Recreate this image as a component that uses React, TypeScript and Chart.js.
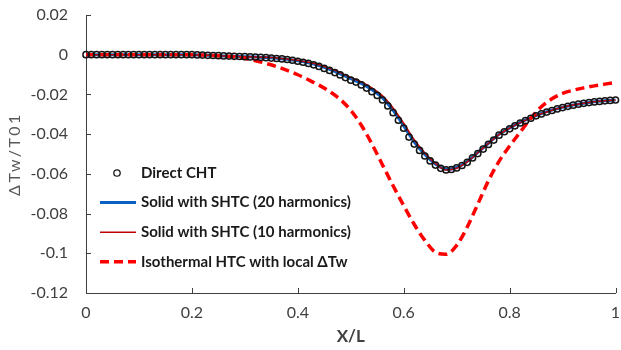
import React, { useEffect, useRef } from 'react';
import { Chart, registerables } from 'chart.js';
Chart.register(...registerables);

// ---------- DATA ----------
const seriesLabels = [
  'Direct CHT',
  'Solid with SHTC (20 harmonics)',
  'Solid with SHTC (10 harmonics)',
  'Isothermal HTC with local ΔTw',
];

// Direct CHT samples (X/L)
const xCHT = [
  0, 0.01, 0.02, 0.03, 0.04, 0.05, 0.06, 0.07, 0.08, 0.09,
  0.1, 0.11, 0.12, 0.13, 0.14, 0.15, 0.16, 0.17, 0.18, 0.19,
  0.2, 0.21, 0.22, 0.23, 0.24, 0.25, 0.26, 0.27, 0.28, 0.29,
  0.3, 0.31, 0.32, 0.33, 0.34, 0.35, 0.36, 0.37, 0.38, 0.39,
  0.4, 0.41, 0.42, 0.43, 0.44, 0.45, 0.46, 0.47, 0.48, 0.49,
  0.5, 0.51, 0.52, 0.53, 0.54, 0.55, 0.56, 0.57, 0.58, 0.59,
  0.6, 0.61, 0.62, 0.63, 0.64, 0.65, 0.66, 0.67, 0.68, 0.69,
  0.7, 0.71, 0.72, 0.73, 0.74, 0.75, 0.76, 0.77, 0.78, 0.79,
  0.8, 0.81, 0.82, 0.83, 0.84, 0.85, 0.86, 0.87, 0.88, 0.89,
  0.9, 0.91, 0.92, 0.93, 0.94, 0.95, 0.96, 0.97, 0.98, 0.99,
  1.0,
];
const yCHT = [
  0, 0, 0, 0, 0, 0, 0, 0, 0, 0,
  0, 0, 0, 0, 0, 0, 0, 0, 0, 0,
  0, -0.0001, -0.0002, -0.0003, -0.0004, -0.0005, -0.0006, -0.0007, -0.0008, -0.0009,
  -0.001, -0.0011, -0.0012, -0.0013, -0.0015, -0.0017, -0.0019, -0.0021, -0.0024, -0.0028,
  -0.0033, -0.0038, -0.0044, -0.0051, -0.0059, -0.0069, -0.0079, -0.009, -0.0102, -0.0115,
  -0.0128, -0.0138, -0.0152, -0.0168, -0.0186, -0.0205, -0.0228, -0.0258, -0.0292, -0.033,
  -0.037, -0.0415, -0.045, -0.0482, -0.051, -0.0535, -0.0556, -0.0572, -0.058, -0.0578,
  -0.057, -0.0558, -0.0542, -0.052, -0.0498, -0.0475, -0.0452, -0.043, -0.0405, -0.0388,
  -0.0373, -0.0358, -0.0344, -0.0332, -0.032, -0.0308, -0.0298, -0.0289, -0.0281, -0.0273,
  -0.0266, -0.026, -0.0254, -0.0249, -0.0245, -0.0241, -0.0238, -0.0235, -0.0232, -0.023,
  -0.0228,
];

// Line samples (X/L)
const xLine = [
  0, 0.02, 0.04, 0.06, 0.08, 0.1, 0.12, 0.14, 0.16, 0.18,
  0.2, 0.22, 0.24, 0.26, 0.28, 0.3, 0.32, 0.34, 0.36, 0.38,
  0.4, 0.42, 0.44, 0.46, 0.48, 0.5, 0.52, 0.54, 0.56, 0.58,
  0.6, 0.62, 0.64, 0.66, 0.68, 0.7, 0.72, 0.74, 0.76, 0.78,
  0.8, 0.82, 0.84, 0.86, 0.88, 0.9, 0.92, 0.94, 0.96, 0.98,
  1.0,
];
const y20 = [
  0, 0, 0, 0, 0, 0, 0, 0, 0, 0,
  0, -0.0002, -0.0004, -0.0006, -0.0008, -0.001, -0.0012, -0.0014, -0.0018, -0.0023,
  -0.0031, -0.0041, -0.0055, -0.0074, -0.0096, -0.0121, -0.0144, -0.0176, -0.0217, -0.028,
  -0.0358, -0.044, -0.0502, -0.055, -0.0577, -0.0568, -0.0537, -0.0492, -0.0446, -0.0401,
  -0.0369, -0.0341, -0.0318, -0.0296, -0.0279, -0.0265, -0.0253, -0.0244, -0.0237, -0.0232,
  -0.0228,
];
const y10 = [
  0, 0, 0, 0, 0, 0, 0, 0, 0, 0,
  0, -0.0002, -0.0004, -0.0006, -0.0008, -0.001, -0.0011, -0.0013, -0.0016, -0.0021,
  -0.0028, -0.0038, -0.0051, -0.0069, -0.009, -0.0114, -0.0137, -0.0167, -0.0207, -0.0268,
  -0.0345, -0.0428, -0.0495, -0.0548, -0.058, -0.0572, -0.054, -0.0494, -0.0447, -0.0402,
  -0.037, -0.0342, -0.0319, -0.0297, -0.028, -0.0265, -0.0253, -0.0244, -0.0237, -0.0232,
  -0.0228,
];
const yIso = [
  0, 0, 0, 0, 0, 0, 0, 0, 0, 0,
  0, -0.0002, -0.0004, -0.0007, -0.0011, -0.0019, -0.003, -0.0044, -0.006, -0.0079,
  -0.0101, -0.0126, -0.0153, -0.0185, -0.0225, -0.028, -0.0355, -0.045, -0.0555, -0.066,
  -0.076, -0.0855, -0.0935, -0.0995, -0.1005, -0.096, -0.0868, -0.0752, -0.0635, -0.0537,
  -0.046, -0.039, -0.032, -0.0262, -0.0222, -0.0195, -0.0179, -0.0167, -0.0157, -0.0148,
  -0.014,
];

const xTickValues = [0, 0.2, 0.4, 0.6, 0.8, 1];
const yTickValues = [0.02, 0, -0.02, -0.04, -0.06, -0.08, -0.1, -0.12];
const xTitle = 'X/L';
const yTitle = 'ΔTw/T01';

// ---------- STYLE ----------
const FONT = 'Lato, "Open Sans", "DejaVu Sans", sans-serif';
const AXIS = '#404040';
const TEXT = '#404040';
const BLUE = '#0a5fc4';
const DARKRED = '#c00000';
const RED = '#ff0000';
const DASH = [9, 5];

const pairs = (xs: number[], ys: number[]) => xs.map((x, i) => ({ x, y: ys[i] }));

const innerTicks = {
  id: 'innerTicks',
  beforeDatasetsDraw(chart: any) {
    const { ctx, chartArea, scales } = chart;
    const xs = scales.x;
    const ys = scales.y;
    ctx.save();
    ctx.strokeStyle = AXIS;
    ctx.lineWidth = 1;
    xTickValues.forEach((v) => {
      const px = Math.round(xs.getPixelForValue(v)) + 0.5;
      ctx.beginPath();
      ctx.moveTo(px, chartArea.bottom);
      ctx.lineTo(px, chartArea.bottom - 5);
      ctx.stroke();
    });
    yTickValues.forEach((v) => {
      const py = Math.round(ys.getPixelForValue(v)) + 0.5;
      ctx.beginPath();
      ctx.moveTo(chartArea.left, py);
      ctx.lineTo(chartArea.left + 5, py);
      ctx.stroke();
    });
    ctx.restore();
  },
};

// y-axis title drawn with wider letter spacing (like the reference)
const yAxisTitle = {
  id: 'yAxisTitle',
  afterDraw(chart: any) {
    const { ctx, chartArea } = chart;
    ctx.save();
    ctx.translate(15, (chartArea.top + chartArea.bottom) / 2);
    ctx.rotate(-Math.PI / 2);
    ctx.font = `16px ${FONT}`;
    (ctx as any).letterSpacing = '2.5px';
    ctx.fillStyle = '#595959';
    ctx.textAlign = 'center';
    ctx.textBaseline = 'middle';
    ctx.fillText(yTitle, 0, 0);
    ctx.restore();
  },
};

const insideLegend = {
  id: 'insideLegend',
  afterDraw(chart: any) {
    const { ctx, chartArea } = chart;
    const x0 = chartArea.left + 14;
    const lineLen = 36;
    const textX = x0 + 41;
    const y0 = chartArea.top + 158;
    const gap = 29.6;
    ctx.save();
    ctx.font = `bold 15px ${FONT}`;
    ctx.fillStyle = '#1a1a1a';
    ctx.textBaseline = 'middle';
    ctx.textAlign = 'left';
    seriesLabels.forEach((lab, i) => {
      const y = y0 + i * gap;
      if (i === 0) {
        ctx.beginPath();
        ctx.arc(x0 + 17, y, 3.2, 0, Math.PI * 2);
        ctx.strokeStyle = '#1a1a1a';
        ctx.lineWidth = 1.3;
        ctx.setLineDash([]);
        ctx.stroke();
      } else {
        ctx.beginPath();
        ctx.moveTo(x0, y);
        ctx.lineTo(x0 + lineLen, y);
        if (i === 1) { ctx.strokeStyle = BLUE; ctx.lineWidth = 3; ctx.setLineDash([]); }
        if (i === 2) { ctx.strokeStyle = DARKRED; ctx.lineWidth = 1.5; ctx.setLineDash([]); }
        if (i === 3) { ctx.strokeStyle = RED; ctx.lineWidth = 3.5; ctx.setLineDash(DASH); }
        ctx.stroke();
        ctx.setLineDash([]);
      }
      ctx.fillText(lab, textX, y);
    });
    ctx.restore();
  },
};

export default function App() {
  const ref = useRef<HTMLCanvasElement | null>(null);
  useEffect(() => {
    if (!ref.current) return;
    const chart = new Chart(ref.current, {
      type: 'line',
      data: {
        datasets: [
          {
            label: seriesLabels[0],
            data: pairs(xCHT, yCHT),
            showLine: false,
            pointRadius: 3.1,
            pointBorderWidth: 1.5,
            pointBorderColor: '#141414',
            pointBackgroundColor: 'rgba(0,0,0,0)',
            borderColor: '#141414',
            clip: false,
            order: 0,
          },
          {
            label: seriesLabels[1],
            data: pairs(xLine, y20),
            borderColor: BLUE,
            borderWidth: 3,
            pointRadius: 0,
            cubicInterpolationMode: 'monotone',
            clip: false,
            order: 3,
          },
          {
            label: seriesLabels[2],
            data: pairs(xLine, y10),
            borderColor: DARKRED,
            borderWidth: 1.5,
            pointRadius: 0,
            cubicInterpolationMode: 'monotone',
            clip: false,
            order: 2,
          },
          {
            label: seriesLabels[3],
            data: pairs(xLine, yIso),
            borderColor: RED,
            borderWidth: 3.5,
            borderDash: DASH,
            pointRadius: 0,
            cubicInterpolationMode: 'monotone',
            clip: false,
            order: 1,
          },
        ],
      },
      options: {
        responsive: false,
        animation: false,
        layout: { padding: { top: 15, right: 4, left: 0, bottom: 0 } },
        plugins: { legend: { display: false }, tooltip: { enabled: false } },
        scales: {
          x: {
            type: 'linear',
            min: 0,
            max: 1,
            afterFit: (s: any) => { s.height = 57; s.paddingLeft = 0; s.paddingRight = 0; },
            afterBuildTicks: (s: any) => { s.ticks = xTickValues.map((v) => ({ value: v })); },
            grid: { display: false, drawTicks: false },
            border: { display: true, color: AXIS, width: 1 },
            ticks: {
              padding: 10,
              color: TEXT,
              font: { family: FONT, size: 16 },
              callback: (v: any) => String(Number(Number(v).toFixed(2))),
            },
            title: {
              display: true,
              text: xTitle,
              color: TEXT,
              font: { family: FONT, size: 17, weight: 'bold' },
              padding: { top: 0, bottom: 3 },
            },
          },
          y: {
            type: 'linear',
            min: -0.12,
            max: 0.02,
            afterFit: (s: any) => { s.width = 86; s.paddingTop = 0; s.paddingBottom = 0; },
            afterBuildTicks: (s: any) => { s.ticks = yTickValues.map((v) => ({ value: v })); },
            grid: { display: false, drawTicks: false },
            border: { display: true, color: AXIS, width: 1 },
            ticks: {
              padding: 18,
              color: TEXT,
              font: { family: FONT, size: 16 },
              callback: (v: any) => {
                const n = Number(Number(v).toFixed(2));
                return n === 0 ? '0' : String(n);
              },
            },
            title: { display: false },
          },
        },
      },
      plugins: [innerTicks, yAxisTitle, insideLegend],
    } as any);
    return () => chart.destroy();
  }, []);

  return (
    <div style={{ position: 'fixed', left: 0, top: 0, width: 621, height: 350, background: '#fff' }}>
      <canvas ref={ref} width={621} height={350} style={{ display: 'block' }} />
    </div>
  );
}
